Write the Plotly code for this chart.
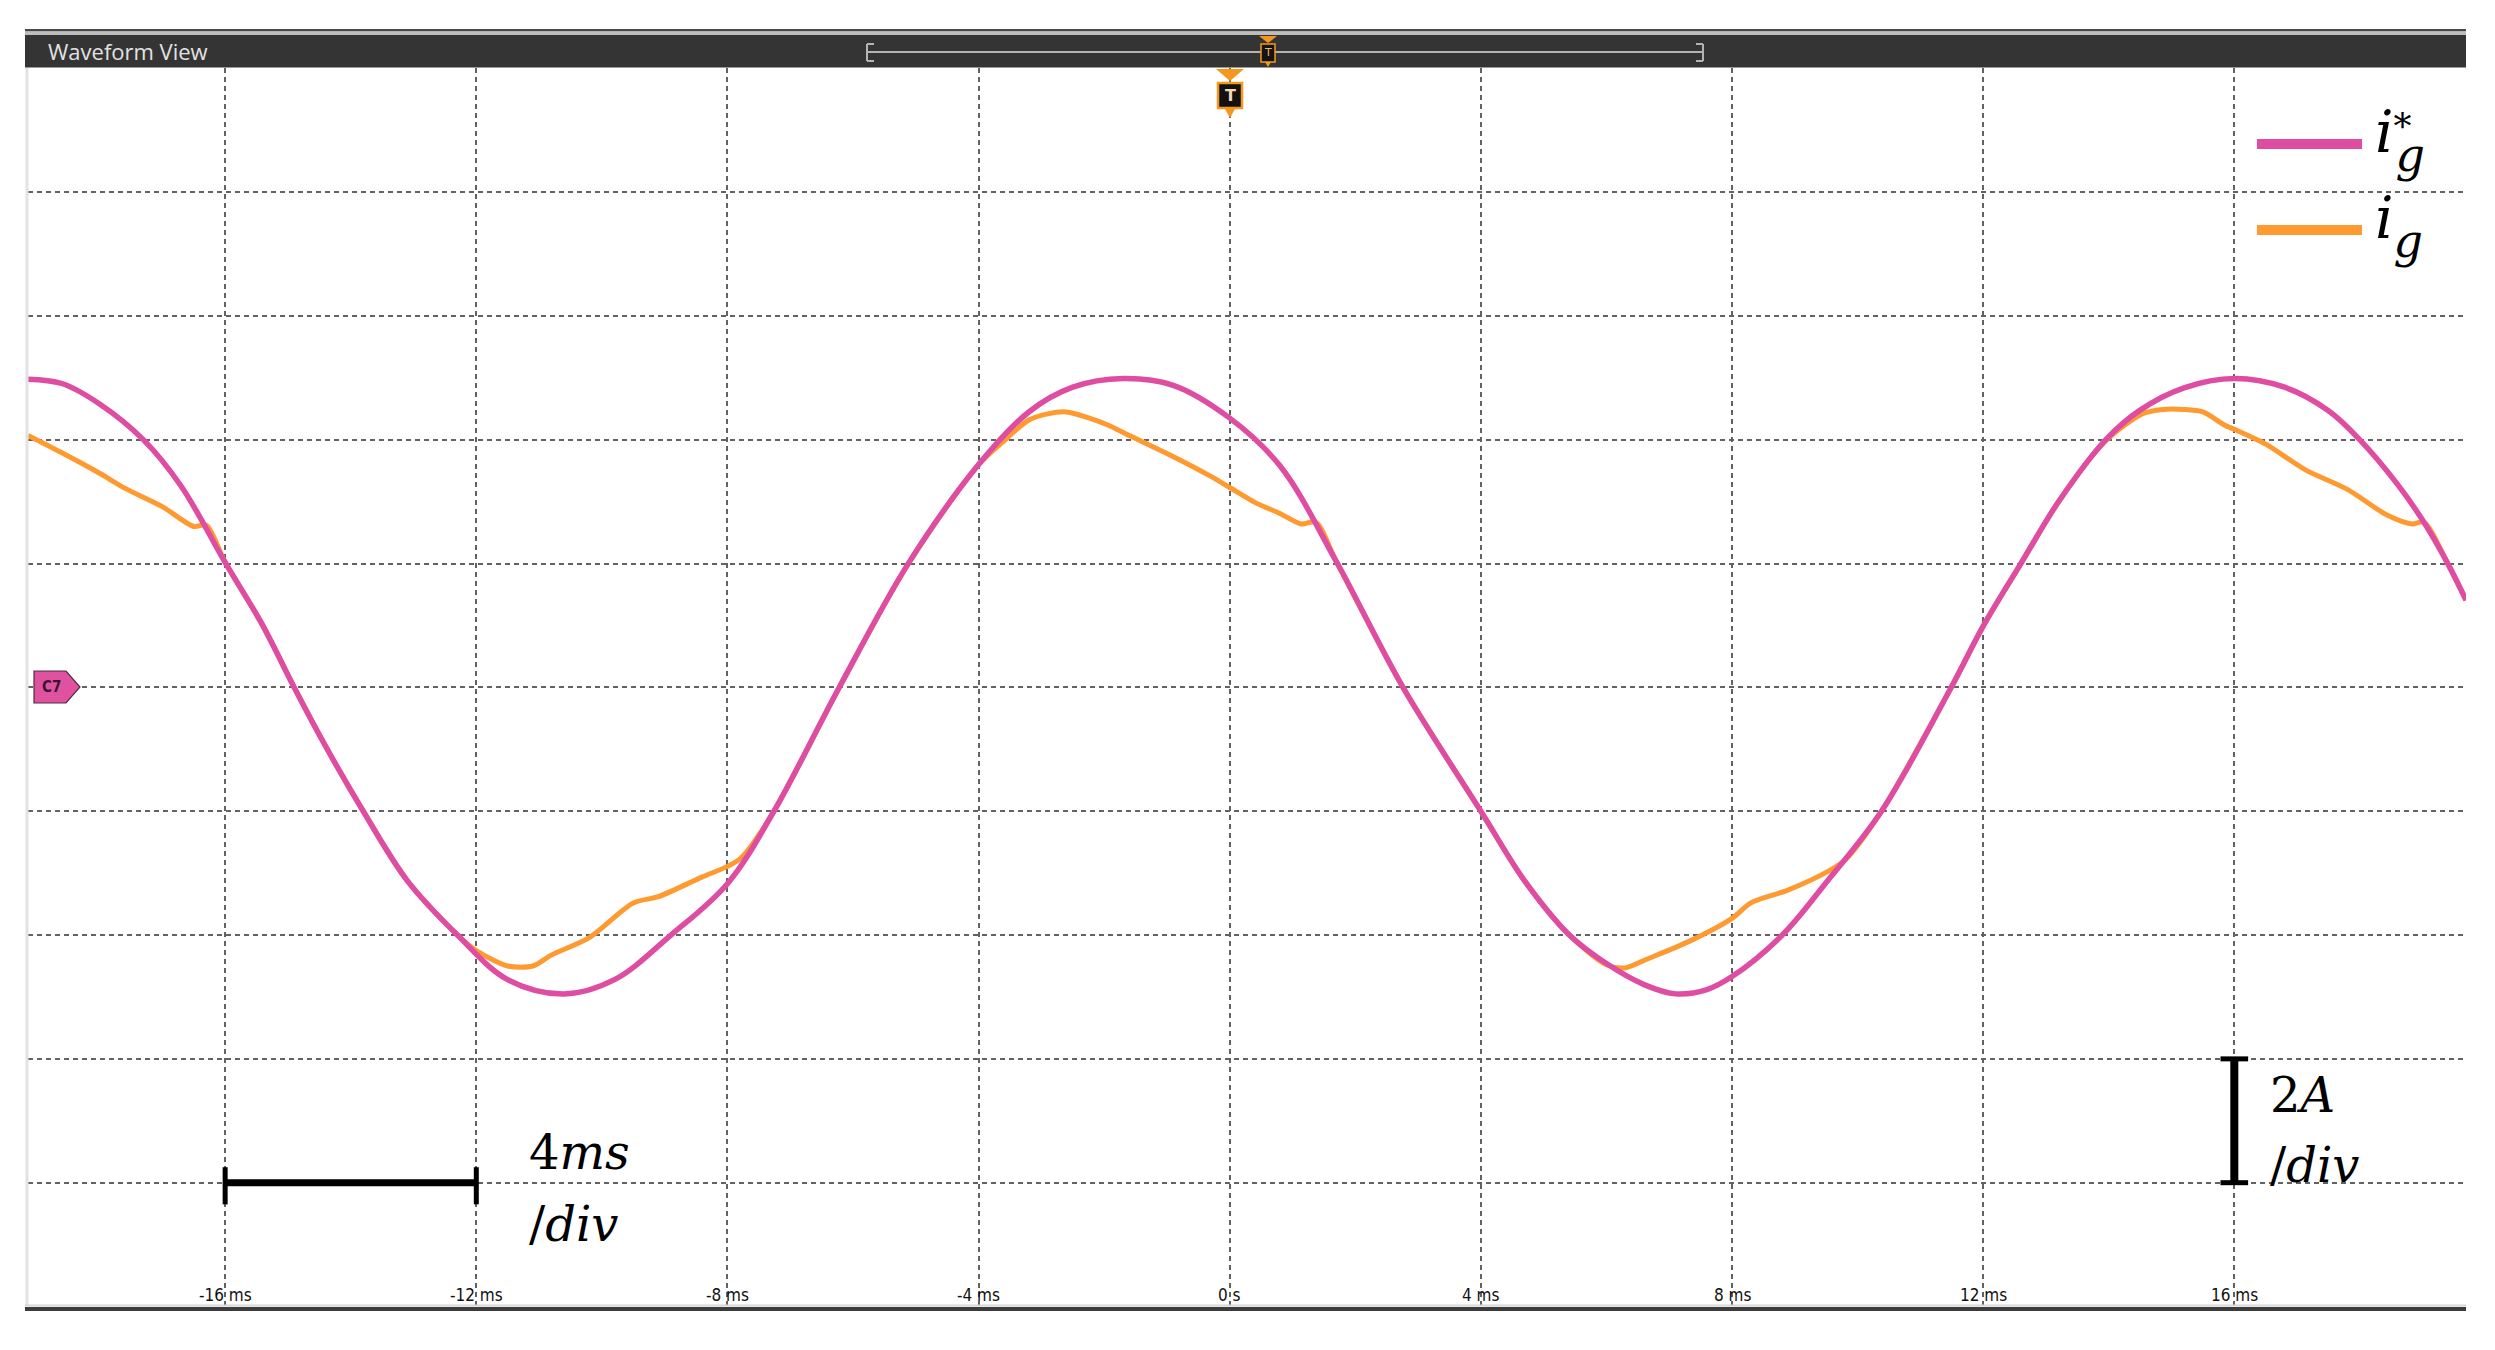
"""
Waveform view: grid current reference vs measured current
"""
import plotly.graph_objects as go

# page body keeps an 8 px margin, so the figure is 16 px smaller than the window
PAD = 8
W, H = 2495 - 2 * PAD, 1350 - 2 * PAD

# time axis (ms) and gridlines
grid_t = [-16, -12, -8, -4, 0, 4, 8, 12, 16]
tick_text = ["-16 ms", "-12 ms", "-8 ms", "-4 ms", "0 s", "4 ms", "8 ms", "12 ms", "16 ms"]
grid_i = [-8, -6, -4, -2, 0, 2, 4, 6, 8, 10]

# i_g* (reference current, A)
t_ref = [-19.14, -18.6, -18.0, -17.3, -16.7, -16.0, -15.4, -14.9, -14.4, -13.8,
         -13.1, -12.3, -11.5, -10.6, -9.8, -8.9, -8.0, -7.26, -6.22, -5.12,
         -4.0, -3.2, -2.5, -1.7, -0.9, 0.0, 0.8, 1.7, 2.76, 4.0,
         4.7, 5.4, 6.0, 6.6, 7.1, 7.6, 8.0, 8.8, 9.5, 10.38,
         11.49, 12.0, 12.6, 13.2, 13.95, 14.5, 15.2, 16.0, 16.8, 17.5,
         18.0, 18.6, 19.0, 19.4, 19.69]
i_ref = [4.98, 4.91, 4.58, 4.0, 3.25, 2.02, 1.0, 0.0, -0.95, -2.0,
         -3.12, -4.0, -4.72, -4.95, -4.72, -4.0, -3.17, -2.0, 0.0, 2.0,
         3.6, 4.45, 4.85, 4.99, 4.88, 4.35, 3.58, 2.03, 0.0, -2.0,
         -3.13, -3.99, -4.46, -4.8, -4.95, -4.88, -4.67, -4.0, -3.15, -2.0,
         0.0, 0.99, 2.0, 3.0, 4.0, 4.48, 4.84, 4.99, 4.85, 4.47,
         4.0, 3.28, 2.7, 2.0, 1.41]

# i_g (measured current, A)
t_meas = [-19.14, -18.6, -18.0, -17.6, -17.0, -16.5, -16.3, -16.0, -15.4, -14.9,
          -14.4, -13.8, -13.1, -12.3, -12.0, -11.5, -11.1, -10.8, -10.2, -9.5,
          -9.1, -8.4, -8.0, -7.78, -7.26, -6.22, -5.12, -4.0, -3.6, -3.2,
          -2.9, -2.6, -2.26, -1.94, -1.6, -0.96, -0.3, 0.0, 0.4, 0.8,
          1.14, 1.37, 1.7, 2.76, 4.0, 4.7, 5.4, 6.0, 6.3, 6.64,
          7.3, 8.0, 8.3, 8.9, 9.55, 9.81, 10.38, 11.49, 12.0, 12.6,
          13.2, 13.95, 14.54, 14.86, 15.19, 15.5, 15.84, 16.0, 16.5, 17.14,
          17.8, 18.44, 18.83, 19.02, 19.4, 19.69]
i_meas = [4.07, 3.79, 3.46, 3.22, 2.92, 2.60, 2.62, 2.02, 1.0, 0.0,
          -0.95, -2.0, -3.12, -4.0, -4.25, -4.5, -4.5, -4.32, -4.04, -3.48,
          -3.38, -3.06, -2.89, -2.75, -2.0, 0.0, 2.0, 3.6, 3.98, 4.32,
          4.42, 4.45, 4.36, 4.24, 4.07, 3.76, 3.41, 3.23, 2.99, 2.81,
          2.64, 2.67, 2.03, 0.0, -2.0, -3.13, -3.99, -4.48, -4.53, -4.39,
          -4.11, -3.73, -3.48, -3.27, -2.96, -2.78, -2.0, 0.0, 0.99, 2.0,
          3.0, 3.98, 4.42, 4.49, 4.49, 4.45, 4.24, 4.17, 3.93, 3.51,
          3.2, 2.78, 2.64, 2.67, 2.0, 1.41]

COLOR_REF = "#DE4DA2"
COLOR_MEAS = "#FF9A30"
ORANGE = "#F5961F"
GRID = "#626262"
SERIF = "DejaVu Serif"
COND = "DejaVu Sans Condensed, Liberation Sans Narrow, sans-serif"


def X(px):
    # window pixel -> paper fraction
    return (px - PAD) / W


def Y(py):
    return 1 - (py - PAD) / H


def path(points):
    s = "M " + " L ".join(f"{X(a):.5f},{Y(b):.5f}" for a, b in points)
    return s + " Z"


fig = go.Figure()

fig.add_trace(go.Scatter(
    x=t_meas, y=i_meas, mode="lines", name="i_g",
    line=dict(color=COLOR_MEAS, width=5, shape="spline", smoothing=0.8),
    hoverinfo="skip"
))
fig.add_trace(go.Scatter(
    x=t_ref, y=i_ref, mode="lines", name="i_g*",
    line=dict(color=COLOR_REF, width=5.5, shape="spline", smoothing=1),
    hoverinfo="skip"
))

shapes = []
# header band
shapes.append(dict(type="rect", xref="paper", yref="paper", x0=X(25), x1=X(2466),
                   y0=Y(29), y1=Y(31.5), fillcolor="#4a4a4a", line=dict(width=0), layer="above"))
shapes.append(dict(type="rect", xref="paper", yref="paper", x0=X(25), x1=X(2466),
                   y0=Y(31.5), y1=Y(35), fillcolor="#bdbdbd", line=dict(width=0), layer="above"))
shapes.append(dict(type="rect", xref="paper", yref="paper", x0=X(25), x1=X(2466),
                   y0=Y(35), y1=Y(67.5), fillcolor="#343434", line=dict(width=0), layer="above"))
# scroll track with brackets
track = dict(color="#b4b4b4", width=2)
shapes.append(dict(type="line", xref="paper", yref="paper", x0=X(867), x1=X(1703),
                   y0=Y(52), y1=Y(52), line=track, layer="above"))
for xb, d in [(867, 7), (1703, -7)]:
    shapes.append(dict(type="line", xref="paper", yref="paper", x0=X(xb), x1=X(xb),
                       y0=Y(44), y1=Y(61), line=track, layer="above"))
    for yb in (44, 61):
        shapes.append(dict(type="line", xref="paper", yref="paper", x0=X(xb), x1=X(xb + d),
                           y0=Y(yb), y1=Y(yb), line=track, layer="above"))
# small trigger marker in the header
shapes.append(dict(type="path", xref="paper", yref="paper", layer="above",
                   path=path([(1259, 36), (1277, 36), (1268, 43)]),
                   fillcolor=ORANGE, line=dict(width=0)))
shapes.append(dict(type="rect", xref="paper", yref="paper", layer="above",
                   x0=X(1261), x1=X(1275), y0=Y(44), y1=Y(62),
                   fillcolor="#141414", line=dict(color=ORANGE, width=1.5)))
shapes.append(dict(type="path", xref="paper", yref="paper", layer="above",
                   path=path([(1265, 62), (1271, 62), (1268, 67)]),
                   fillcolor=ORANGE, line=dict(width=0)))
# trigger marker at t = 0
shapes.append(dict(type="path", xref="paper", yref="paper", layer="above",
                   path=path([(1216, 69), (1244, 69), (1230, 81)]),
                   fillcolor=ORANGE, line=dict(width=0)))
shapes.append(dict(type="rect", xref="paper", yref="paper", layer="above",
                   x0=X(1218), x1=X(1242), y0=Y(83), y1=Y(108),
                   fillcolor="#111111", line=dict(color=ORANGE, width=2.5)))
shapes.append(dict(type="path", xref="paper", yref="paper", layer="above",
                   path=path([(1225, 109), (1235, 109), (1230, 118)]),
                   fillcolor=ORANGE, line=dict(width=0)))
# channel tag
shapes.append(dict(type="path", xref="paper", yref="paper", layer="above",
                   path=path([(34, 671), (66, 671), (80, 687), (66, 703), (34, 703)]),
                   fillcolor="#E0529F", line=dict(color="#4a3040", width=1.2)))
# frame lines
shapes.append(dict(type="line", xref="paper", yref="paper", x0=X(27), x1=X(27),
                   y0=Y(68), y1=Y(1306), line=dict(color="#e2e2e2", width=3)))
shapes.append(dict(type="line", xref="paper", yref="paper", x0=X(25), x1=X(2466),
                   y0=Y(1305.5), y1=Y(1305.5), line=dict(color="#d6d6d6", width=2), layer="above"))
shapes.append(dict(type="line", xref="paper", yref="paper", x0=X(25), x1=X(2466),
                   y0=Y(1309), y1=Y(1309), line=dict(color="#3c3c3c", width=4), layer="above"))
# legend swatches
shapes.append(dict(type="line", xref="paper", yref="paper", x0=X(2257), x1=X(2362),
                   y0=Y(144), y1=Y(144), line=dict(color=COLOR_REF, width=10), layer="above"))
shapes.append(dict(type="line", xref="paper", yref="paper", x0=X(2257), x1=X(2362),
                   y0=Y(230), y1=Y(230), line=dict(color=COLOR_MEAS, width=10), layer="above"))
# scale bars (data coordinates)
bar = dict(color="black", width=7)
cap = dict(color="black", width=5)
shapes.append(dict(type="line", xref="x", yref="y", x0=-16, x1=-12, y0=-8, y1=-8, line=bar))
for xc in (-16, -12):
    shapes.append(dict(type="line", xref="x", yref="y", x0=xc, x1=xc, y0=-7.75, y1=-8.35, line=cap))
shapes.append(dict(type="line", xref="x", yref="y", x0=16, x1=16, y0=-6, y1=-8,
                   line=dict(color="black", width=8)))
for yc in (-6, -8):
    shapes.append(dict(type="line", xref="x", yref="y", x0=15.78, x1=16.22, y0=yc, y1=yc, line=cap))

ann = []
ann.append(dict(text="Waveform View", xref="paper", yref="paper", x=X(46), y=Y(51),
                xanchor="left", yanchor="middle", showarrow=False,
                font=dict(family="Open Sans", size=22, color="#e2e2e2")))
ann.append(dict(text="T", xref="paper", yref="paper", x=X(1268), y=Y(53),
                xanchor="center", yanchor="middle", showarrow=False,
                font=dict(family="DejaVu Sans", size=11, color="#f2b262")))
ann.append(dict(text="<b>T</b>", xref="paper", yref="paper", x=X(1230), y=Y(95.5),
                xanchor="center", yanchor="middle", showarrow=False,
                font=dict(family="DejaVu Sans", size=16, color="#f6d7b0")))
ann.append(dict(text="<b>C7</b>", xref="paper", yref="paper", x=X(51), y=Y(687),
                xanchor="center", yanchor="middle", showarrow=False,
                font=dict(family="DejaVu Sans Condensed", size=15, color="#3a1530")))
for tv, tt in zip(grid_t, tick_text):
    ann.append(dict(text=tt, xref="x", yref="paper", x=tv, y=Y(1295),
                    xanchor="center", yanchor="middle", showarrow=False,
                    font=dict(family=COND, size=17, color="#111111")))
# scale bar labels
for txt, px, py in [("4<i>ms</i>", 527, 1152), ("/<i>div</i>", 527, 1224),
                    ("2<i>A</i>", 2268, 1095), ("/<i>div</i>", 2268, 1165)]:
    ann.append(dict(text=txt, xref="paper", yref="paper", x=X(px), y=Y(py),
                    xanchor="left", yanchor="middle", showarrow=False,
                    font=dict(family=SERIF, size=48, color="black")))
# legend labels, one text each; star raised and pulled back so the subscript g sits under it
STAR = "<span style='font-size:36px;letter-spacing:-16px;baseline-shift:13px'>*</span>"
SUB_G = "<span style='font-size:46px;font-style:italic;baseline-shift:-19px'>g</span>"
legend_labels = [("<i>i</i>" + STAR + SUB_G, 140.5), ("<i>i</i>" + SUB_G, 226)]
for txt, py in legend_labels:
    ann.append(dict(text=txt, xref="paper", yref="paper", x=X(2375), y=Y(py),
                    xanchor="left", yanchor="middle", showarrow=False, borderpad=0, borderwidth=0,
                    font=dict(family=SERIF, size=58, color="black")))

axis_common = dict(showgrid=True, gridcolor=GRID, gridwidth=1.6, griddash="5px,4px",
                   zeroline=False, showline=False, ticks="", showticklabels=False,
                   fixedrange=True)

fig.update_layout(
    width=W, height=H,
    margin=dict(l=0, r=0, t=0, b=0),
    paper_bgcolor="white", plot_bgcolor="white",
    showlegend=False,
    xaxis=dict(domain=[X(28), X(2466)], range=[-19.14, 19.69], tickvals=grid_t, **axis_common),
    yaxis=dict(domain=[Y(1306.5), Y(68.4)], range=[-10, 10], tickvals=grid_i, **axis_common),
    shapes=shapes,
    annotations=ann,
)

fig.write_html("out.html", config=dict(displayModeBar=False))
